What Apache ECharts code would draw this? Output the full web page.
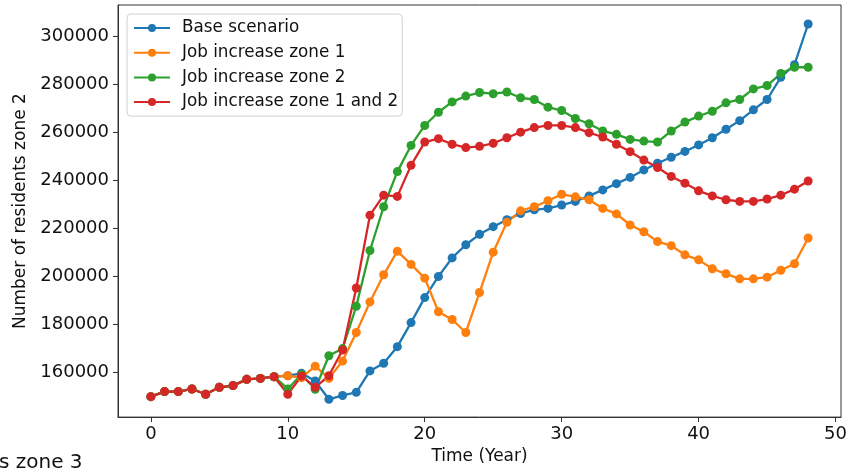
<!DOCTYPE html>
<html>
<head>
<meta charset="utf-8">
<script src="https://cdn.jsdelivr.net/npm/echarts@6/dist/echarts.min.js"></script>
<style>
  html, body { margin: 0; padding: 0; background: #fff; }
  #residentsZone2 { width: 850px; height: 470px; }
</style>
</head>
<body>
<div id="residentsZone2"></div>
<script>
// years on the x axis
const years = [0, 1, 2, 3, 4, 5, 6, 7, 8, 9, 10, 11, 12, 13, 14, 15, 16, 17, 18, 19,
  20, 21, 22, 23, 24, 25, 26, 27, 28, 29, 30, 31, 32, 33, 34, 35, 36, 37, 38, 39,
  40, 41, 42, 43, 44, 45, 46, 47, 48]

// residents in zone 2, per scenario
const baseScenario = [150000, 152100, 152100, 153200, 151000, 153900, 154600, 157200, 157600, 158300,
  158700, 159700, 156500, 148900, 150500, 151800, 160700, 163900, 170800, 180800,
  191200, 200000, 207700, 213200, 217500, 220700, 223600, 226200, 227700, 228300,
  229700, 231200, 233500, 236000, 238600, 241200, 244300, 247100, 249600, 252000,
  254700, 257700, 261200, 264800, 269300, 273600, 282800, 288100, 305000]
const jobZone1 = [150000, 152100, 152100, 153200, 151000, 153900, 154600, 157200, 157600, 158300,
  158700, 157900, 162700, 157600, 164800, 176700, 189400, 200700, 210500, 205000,
  199300, 185300, 182100, 176700, 193300, 210100, 222500, 227300, 229000, 231500,
  234200, 233100, 231900, 228300, 226000, 221400, 218600, 214500, 212800, 209000,
  206900, 203200, 201100, 199000, 199000, 199700, 202600, 205300, 216000]
const jobZone2 = [150000, 152100, 152100, 153200, 151000, 153900, 154600, 157200, 157600, 158300,
  153200, 159300, 153100, 167000, 170000, 187600, 210800, 229000, 243600, 254500,
  262800, 268300, 272600, 275000, 276500, 276000, 276700, 274300, 273600, 270400,
  269000, 265700, 263500, 260500, 259100, 257000, 256300, 255900, 260500, 264200,
  266700, 268700, 272200, 273600, 278000, 279400, 284400, 287000, 287000]
const jobZone12 = [150000, 152100, 152100, 153200, 151000, 153900, 154600, 157200, 157600, 158300,
  151000, 158600, 153900, 158700, 169400, 195200, 225500, 233800, 233300, 246200,
  255900, 257300, 255000, 253600, 254100, 255400, 257700, 260000, 261900, 262800,
  262800, 261900, 259800, 258000, 255000, 251900, 248400, 245300, 241600, 238800,
  235600, 233500, 231900, 231200, 231200, 232200, 233800, 236300, 239700]

const xTicks = [0, 10, 20, 30, 40, 50]
const yTicks = [160000, 180000, 200000, 220000, 240000, 260000, 280000, 300000]

const seriesNames = ['Base scenario', 'Job increase zone 1', 'Job increase zone 2', 'Job increase zone 1 and 2']
const seriesValues = [baseScenario, jobZone1, jobZone2, jobZone12]
const colors = ['#1f77b4', '#ff7f0e', '#2ca02c', '#d62728']

const font = 'DejaVu Sans'

const chart = echarts.init(document.getElementById('residentsZone2'))
chart.setOption({
  animation: false,
  color: colors,
  textStyle: { fontFamily: font },
  grid: {
    left: 118,
    right: 8,
    top: 5,
    bottom: 51,
    show: true,
    borderColor: '#333',
    borderWidth: 1,
  },
  legend: {
    orient: 'vertical',
    left: 127,
    top: 14,
    padding: [4, 4, 4, 6],
    itemWidth: 36,
    itemHeight: 10,
    itemGap: 4.7,
    backgroundColor: 'rgba(255,255,255,0.8)',
    borderColor: '#d0d0d0',
    borderWidth: 1,
    borderRadius: 4,
    textStyle: {
      fontFamily: font,
      fontSize: 16.8,
      color: '#111',
      lineHeight: 20,
      padding: [0, 0, 0, 7],
    },
    data: seriesNames,
  },
  xAxis: {
    type: 'value',
    min: -2.4,
    max: 50.4,
    name: 'Time (Year)',
    nameLocation: 'middle',
    nameGap: 29,
    nameTextStyle: { fontFamily: font, fontSize: 17, color: '#111' },
    splitLine: { show: false },
    axisLine: { show: true, onZero: false, lineStyle: { color: '#333' } },
    axisTick: { show: true, inside: false, length: 5, lineStyle: { color: '#333' }, customValues: xTicks },
    axisLabel: { fontFamily: font, fontSize: 18, color: '#111', margin: 8, customValues: xTicks },
  },
  yAxis: {
    type: 'value',
    min: 141500,
    max: 312900,
    name: 'Number of residents zone 2',
    nameLocation: 'middle',
    nameGap: 87,
    nameTextStyle: { fontFamily: font, fontSize: 17, color: '#111' },
    splitLine: { show: false },
    axisLine: { show: true, onZero: false, lineStyle: { color: '#333' } },
    axisTick: { show: true, inside: false, length: 5, lineStyle: { color: '#333' }, customValues: yTicks },
    axisLabel: {
      fontFamily: font,
      fontSize: 18,
      color: '#111',
      margin: 9,
      customValues: yTicks,
      formatter: v => String(v),
    },
  },
  graphic: [
    {
      type: 'text',
      left: -1,
      top: 453,
      style: { text: 's zone 3', fontFamily: font, fontSize: 20, fill: '#111' },
    },
  ],
  series: seriesNames.map((name, i) => ({
    name: name,
    type: 'line',
    symbol: 'circle',
    symbolSize: 9,
    showSymbol: true,
    lineStyle: { width: 2.3 },
    emphasis: { disabled: true },
    data: years.map((y, j) => [y, seriesValues[i][j]]),
  })),
})
</script>
</body>
</html>
